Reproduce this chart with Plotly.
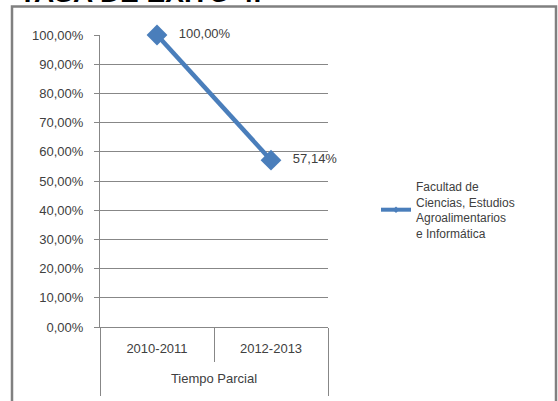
import plotly.graph_objects as go

groups = ["Tiempo Parcial"]
years = ["2010-2011", "2012-2013"]
values = [1.0, 0.5714]
series_name = "Facultad de<br>Ciencias, Estudios<br>Agroalimentarios<br>e Informática"
title_text = "TASA DE EXITO 4."

W, H = 558, 401
L, R, T, B = 100, 230, 35, 6
plot_bottom = 327
pw = W - L - R
ph_paper = H - T - B  # paper height in px

def px(x):
    return (x - L) / pw

def py(y):
    return (H - B - y) / ph_paper

blue = "#4A7EBB"
grey = "#878787"
txt = "#404040"
font = "Liberation Sans"

fig = go.Figure()
fig.add_trace(go.Scatter(
    x=years, y=values, name=series_name,
    mode="lines+markers+text", showlegend=False,
    line=dict(color=blue, width=4.5),
    marker=dict(symbol="diamond", size=16, color=blue),
    texttemplate="\u00a0\u00a0\u00a0%{y:.2%}", textposition="middle right",
    textfont=dict(family=font, size=13, color=txt),
    cliponaxis=False,
))
fig.add_trace(go.Scatter(
    x=groups, y=[None], xaxis="x2", showlegend=False, hoverinfo="skip",
    mode="markers",
))
fig.add_trace(go.Scatter(
    x=[None], y=[None], name=series_name, mode="lines+markers",
    line=dict(color=blue, width=4),
    marker=dict(symbol="diamond", size=5, color=blue),
))

fig.update_layout(
    width=W, height=H,
    margin=dict(l=L, r=R, t=T, b=B, autoexpand=False),
    paper_bgcolor="white", plot_bgcolor="white",
    separators=",.",
    showlegend=True,
    legend=dict(x=px(376), y=py(172), xanchor="left", yanchor="top",
                font=dict(family=font, size=12, color=txt),
                bgcolor="rgba(0,0,0,0)", itemwidth=30),
    yaxis=dict(range=[0, 1], dtick=0.1, tickformat=".2%",
               domain=[py(plot_bottom), 1], automargin=False,
               showgrid=True, gridcolor=grey, gridwidth=1,
               showline=True, linecolor=grey, linewidth=1,
               ticks="outside", ticklen=5, tickcolor=grey,
               ticklabelstandoff=8,
               tickfont=dict(family=font, size=13, color=txt),
               zeroline=False, fixedrange=True),
    xaxis=dict(type="category", range=[-0.5, 1.5], anchor="y",
               automargin=False,
               showline=True, linecolor=grey,
               ticks="outside", tickson="boundaries", ticklen=34,
               tickcolor=grey, showgrid=False, ticklabelstandoff=9,
               tickfont=dict(family=font, size=13, color=txt)),
    xaxis2=dict(type="category", range=[-0.5, 0.5], anchor="y",
                overlaying="x", side="bottom", automargin=False,
                showline=False, ticks="outside", tickson="boundaries",
                ticklen=68, tickcolor=grey, showgrid=False,
                ticklabelstandoff=42,
                tickfont=dict(family=font, size=13, color=txt)),
    font=dict(family=font, color=txt),
)

fig.add_shape(type="rect", xref="paper", yref="paper",
              x0=px(12), x1=px(556), y0=py(6.5), y1=py(410),
              line=dict(color="#808080", width=2.5), layer="above")

fig.add_annotation(text="<b>" + title_text + "</b>", xref="paper", yref="paper",
                   x=px(17), y=py(10), xanchor="left", yanchor="bottom",
                   showarrow=False, font=dict(family=font, size=28, color="black"))

fig.write_html("out.html", config={"displayModeBar": False},
               post_script="document.body.style.margin='0';")
